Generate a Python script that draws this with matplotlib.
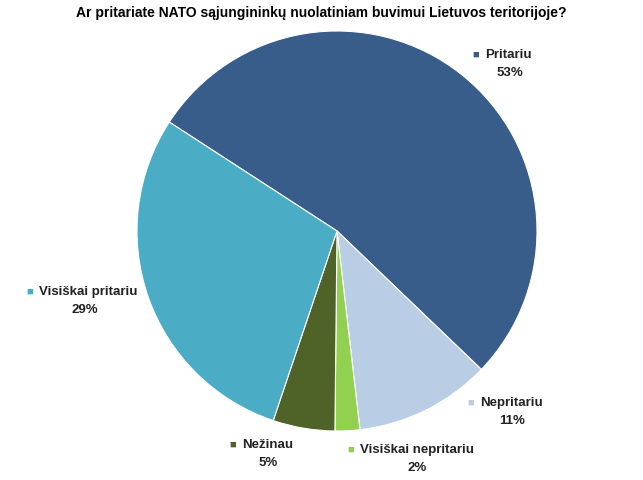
import matplotlib
matplotlib.use("Agg")
import matplotlib.pyplot as plt

labels = ["Pritariu", "Nepritariu", "Visiškai nepritariu", "Nežinau", "Visiškai pritariu"]
values = [53, 11, 2, 5, 29]
colors = ["#385D8A", "#B9CDE5", "#92D050", "#4F6228", "#4BACC6"]

W, H = 643, 481
fig = plt.figure(figsize=(W/100, H/100), dpi=100)
plt.rcParams['font.family'] = ['Liberation Sans', 'DejaVu Sans']
cx, cy, r = 337, 232, 200
ax = fig.add_axes([(cx-r)/W, (H-cy-r)/H, 2*r/W, 2*r/H])
ax.pie(values, colors=colors, startangle=147, counterclock=False,
       wedgeprops=dict(edgecolor="white", linewidth=0.8), radius=1)
ax.set_xlim(-1, 1); ax.set_ylim(-1, 1); ax.set_aspect('equal'); ax.axis('off')

fig.text(0.5, 1-13/H, "Ar pritariate NATO sąjungininkų nuolatiniam buvimui Lietuvos teritorijoje?",
         ha='center', va='center', fontsize=10, fontweight='bold')

# label layout: (square x, y, pct center x)
pos = {"Pritariu": (476, 55, 510), "Nepritariu": (471, 403, 512),
       "Visiškai nepritariu": (351, 450, 417), "Nežinau": (233, 445, 268),
       "Visiškai pritariu": (30, 292, 85)}
for lab, v, c in zip(labels, values, colors):
    sx, sy, px = pos[lab]
    fig.text(sx/W, 1-sy/H, "■", color=c, fontsize=8, ha='center', va='center')
    fig.text((sx+9)/W, 1-sy/H, lab, fontsize=9.5, fontweight='bold', ha='left', va='center', color="#222222")
    fig.text(px/W, 1-(sy+18)/H, f"{v}%", fontsize=9.5, fontweight='bold', ha='center', va='center', color="#222222")

fig.savefig("out.png", dpi=100)
